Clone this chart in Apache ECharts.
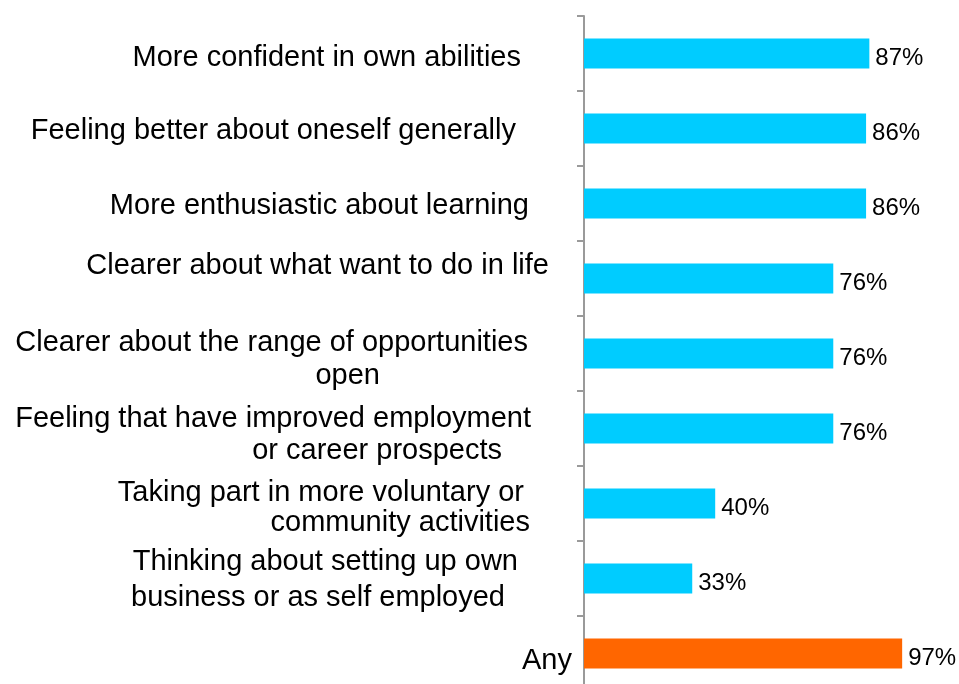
<!DOCTYPE html>
<html>
<head>
<meta charset="utf-8">
<script src="https://cdn.jsdelivr.net/npm/echarts@6/dist/echarts.min.js"></script>
<style>
  html, body { margin: 0; padding: 0; background: #ffffff; }
  #chart { width: 959px; height: 684px; }
</style>
</head>
<body>
<div id="chart"></div>
<script>
// Survey outcomes (share of respondents, %)
const categories = [
  'More confident in own abilities',
  'Feeling better about oneself generally',
  'More enthusiastic about learning',
  'Clearer about what want to do in life',
  'Clearer about the range of opportunities\nopen',
  'Feeling that have improved employment\nor career prospects',
  'Taking part in more voluntary or\ncommunity activities',
  'Thinking about setting up own\nbusiness or as self employed',
  'Any'
];
const values = [87, 86, 86, 76, 76, 76, 40, 33, 97];

// Label layout: space between each text line and the axis,
// line spacing and a vertical nudge per label
const lineGaps = [[63], [68], [55], [35], [56, 204], [53, 82], [60, 54], [66, 79], [12]];
const lineSpacing = [34, 34, 34, 34, 33, 32, 30, 36, 34];
const labelNudge = [4, 2, 2, -13, 6, 6, 4, 1, 7];

const FONT = '"Liberation Sans", Arial, Helvetica, sans-serif';
const CYAN = '#00CCFF';
const ORANGE = '#FF6600';

const rich = {};
lineGaps.forEach((gaps, i) => {
  gaps.forEach((g, j) => {
    rich['g' + i + '_' + j] = {
      fontSize: 29, fontFamily: FONT, color: '#000', lineHeight: lineSpacing[i],
      padding: [0, g, 0, 0]
    };
  });
});

const catData = categories.map((c, i) => {
  const d = labelNudge[i];
  return {
    value: c,
    textStyle: { padding: d >= 0 ? [2 * d, 0, 0, 0] : [0, 0, -2 * d, 0] }
  };
});

const chart = echarts.init(document.getElementById('chart'), null, { renderer: 'canvas' });
chart.setOption({
  animation: false,
  backgroundColor: '#ffffff',
  grid: {
    left: 584, top: 16, width: 328, height: 675,
    containLabel: false, outerBoundsMode: 'none'
  },
  xAxis: {
    type: 'value', min: 0, max: 100, show: false
  },
  yAxis: {
    type: 'category',
    inverse: true,
    data: catData,
    axisLine: { show: true, lineStyle: { color: '#9a9a9a', width: 2 } },
    axisTick: { show: true, length: 7, lineStyle: { color: '#9a9a9a', width: 2 } },
    axisLabel: {
      interval: 0,
      margin: 0,
      align: 'right',
      verticalAlign: 'middle',
      fontSize: 29,
      fontFamily: FONT,
      color: '#000',
      lineHeight: 34,
      rich: rich,
      formatter: function (val, idx) {
        return val.split('\n').map((ln, j) => '{g' + idx + '_' + j + '|' + ln + '}').join('\n');
      }
    },
    splitLine: { show: false }
  },
  series: [{
    type: 'bar',
    data: values,
    barWidth: 30,
    itemStyle: {
      color: function (p) { return p.dataIndex === values.length - 1 ? ORANGE : CYAN; }
    },
    label: {
      show: true,
      position: 'right',
      distance: 6,
      offset: [0, 5],
      fontSize: 24,
      fontFamily: FONT,
      color: '#000',
      formatter: '{c}%'
    }
  }]
});
</script>
</body>
</html>
